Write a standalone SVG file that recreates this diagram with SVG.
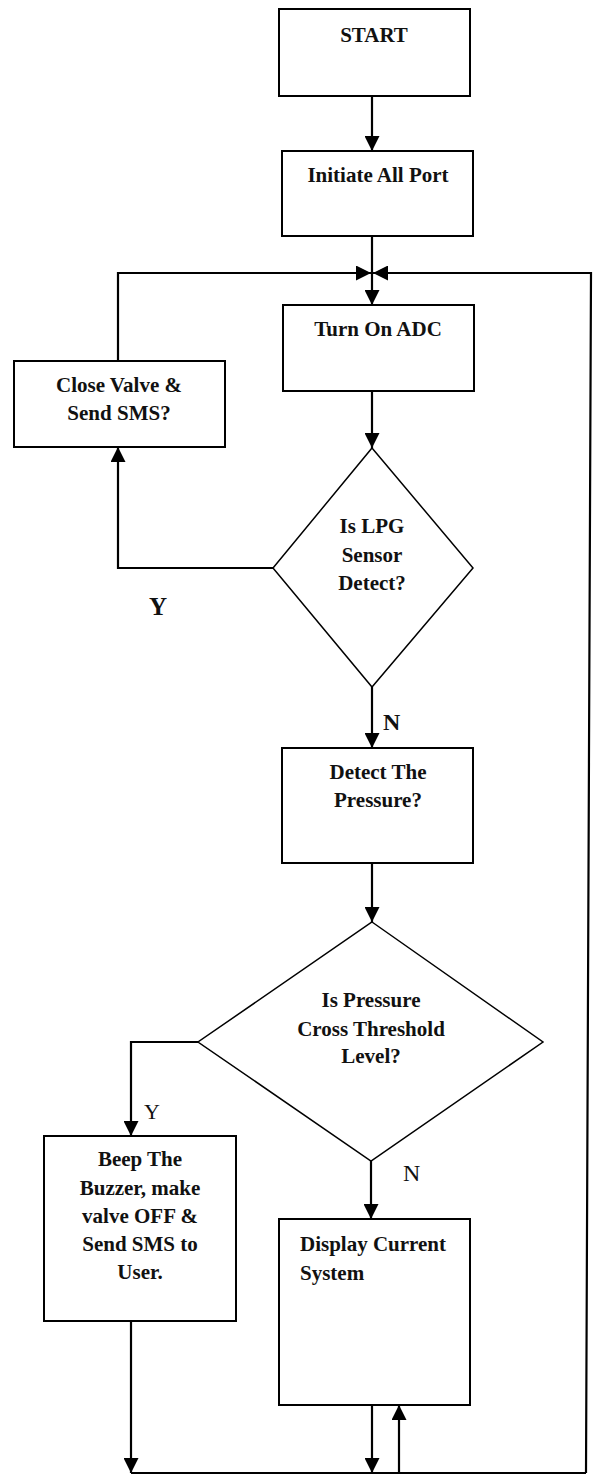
<svg xmlns="http://www.w3.org/2000/svg" width="593" height="1474" viewBox="0 0 593 1474">
<style>
.box{fill:#fff;stroke:#000;stroke-width:2}
.dia{fill:#fff;stroke:#000;stroke-width:1.5}
.t{font-family:"Liberation Serif","Times New Roman",serif;font-weight:bold;font-size:21px;fill:#111;text-anchor:middle}
.ts{text-anchor:start}
.lbl{font-family:"Liberation Serif","Times New Roman",serif;fill:#111}
.c{fill:none;stroke:#000;stroke-width:2.2}
.ca{fill:none;stroke:#000;stroke-width:2.2;marker-end:url(#ah)}
</style>
<defs>
<marker id="ah" markerUnits="userSpaceOnUse" markerWidth="15" markerHeight="15" refX="15" refY="7.5" orient="auto">
<path d="M0,0 L15,7.5 L0,15 z" fill="#000"/>
</marker>
</defs>
<rect width="593" height="1474" fill="#fff"/>
<g id="connectors">
<path class="ca" d="M372,96 L372,151"/>
<path class="c" d="M372,236 L372,273"/>
<path class="ca" d="M372,273 L372,305"/>
<path class="ca" d="M118,361 L118,273 L371,273"/>
<path class="ca" d="M586,1473 L591,273 L373,273"/>
<path class="ca" d="M372,391 L372,448"/>
<path class="ca" d="M273,568 L118,568 L118,447"/>
<path class="ca" d="M372,687 L372,748"/>
<path class="ca" d="M372,863 L372,922"/>
<path class="ca" d="M198,1042 L131,1042 L131,1136"/>
<path class="ca" d="M371,1161 L371,1219"/>
<path class="ca" d="M131,1321 L131,1473"/>
<path class="ca" d="M372,1405 L372,1473"/>
<path class="ca" d="M399,1473 L399,1405"/>
<path class="c" d="M131,1473 L586,1473"/>
<text class="lbl" x="158" y="615" font-size="25" font-weight="bold" text-anchor="middle">Y</text>
<text class="lbl" x="383" y="730" font-size="24" font-weight="bold">N</text>
<text class="lbl" x="144" y="1119" font-size="22">Y</text>
<text class="lbl" x="403" y="1181" font-size="24">N</text>
</g>
<g id="start">
<rect class="box" x="279" y="9" width="191" height="87"/>
<text class="t" x="374" y="42">START</text>
</g>
<g id="initiate">
<rect class="box" x="282" y="151" width="191" height="85"/>
<text class="t" x="378" y="182">Initiate All Port</text>
</g>
<g id="adc">
<rect class="box" x="283" y="305" width="191" height="86"/>
<text class="t" x="378" y="336">Turn On ADC</text>
</g>
<g id="closevalve">
<rect class="box" x="14" y="361" width="211" height="86"/>
<text class="t" x="119" y="392">Close Valve &amp;</text>
<text class="t" x="119" y="420">Send SMS?</text>
</g>
<g id="lpg">
<polygon class="dia" points="372,448 473,568 372,687 273,568"/>
<text class="t" x="372" y="533">Is LPG</text>
<text class="t" x="372" y="562">Sensor</text>
<text class="t" x="372" y="590">Detect?</text>
</g>
<g id="detect">
<rect class="box" x="282" y="748" width="191" height="115"/>
<text class="t" x="378" y="779">Detect The</text>
<text class="t" x="378" y="807">Pressure?</text>
</g>
<g id="pressure">
<polygon class="dia" points="372,922 543,1042 371,1161 198,1042"/>
<text class="t" x="371" y="1007">Is Pressure</text>
<text class="t" x="371" y="1036">Cross Threshold</text>
<text class="t" x="371" y="1063">Level?</text>
</g>
<g id="beep">
<rect class="box" x="44" y="1136" width="192" height="185"/>
<text class="t" x="140" y="1166">Beep The</text>
<text class="t" x="140" y="1195">Buzzer, make</text>
<text class="t" x="140" y="1223">valve OFF &amp;</text>
<text class="t" x="140" y="1251">Send SMS to</text>
<text class="t" x="140" y="1279">User.</text>
</g>
<g id="display">
<rect class="box" x="279" y="1219" width="191" height="186"/>
<text class="t ts" x="300" y="1251">Display Current</text>
<text class="t ts" x="300" y="1280">System</text>
</g>
</svg>
